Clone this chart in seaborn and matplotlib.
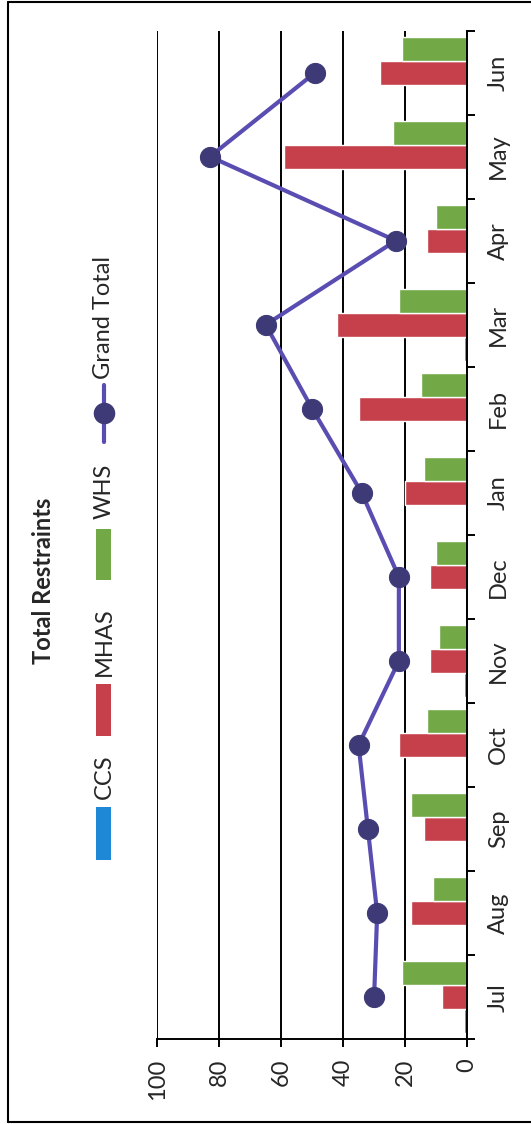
import numpy as np
import pandas as pd
import matplotlib
matplotlib.use("Agg")
import matplotlib.pyplot as plt
from matplotlib.patches import Rectangle
from matplotlib.lines import Line2D
from matplotlib.ticker import FixedLocator, NullFormatter, FixedFormatter
import seaborn as sns

# Monthly restraint counts per facility, fiscal year Jul-Jun
months = ["Jul", "Aug", "Sep", "Oct", "Nov", "Dec", "Jan", "Feb", "Mar", "Apr", "May", "Jun"]
ccs = [1, 0, 0, 0, 1, 0, 0, 0, 1, 0, 0, 0]
mhas = [8, 18, 14, 22, 12, 12, 20, 35, 42, 13, 59, 28]
whs = [21, 11, 18, 13, 9, 10, 14, 15, 22, 10, 24, 21]
grand_total = [30, 29, 32, 35, 22, 22, 34, 50, 65, 23, 83, 49]
series_names = ["CCS", "MHAS", "WHS"]
value_ticks = [0, 20, 40, 60, 80, 100]

sns.set_style("white")
plt.rcParams["font.family"] = ["Lato", "DejaVu Sans"]

colors = {"CCS": "#1f88d6", "MHAS": "#c6404b", "WHS": "#72a846"}
line_color = "#5a4db2"
marker_color = "#3e3a78"
FS = 17

df = pd.DataFrame({
    "month": months * 3,
    "series": np.repeat(series_names, len(months)),
    "value": ccs + mhas + whs,
})

W, H = 531, 1124
fig = plt.figure(figsize=(W / 100, H / 100), dpi=100)
fig.patch.set_facecolor("white")

# chart is laid out sideways: values run right-to-left, months bottom-to-top
x0, x1 = 157.3, 467.0
y_top, y_bot = 30.5, 1039.3
ax = fig.add_axes([x0 / W, 1 - y_bot / H, (x1 - x0) / W, (y_bot - y_top) / H])

sns.barplot(data=df, y="month", x="value", hue="series", order=months,
            hue_order=series_names, palette=colors, orient="h", width=0.855,
            saturation=1, legend=False, ax=ax, zorder=2)

sns.lineplot(x=grand_total, y=months, sort=False, orient="y", estimator=None,
             color=line_color, linewidth=3.0, marker="o", markersize=14.5,
             markerfacecolor=marker_color, markeredgecolor=marker_color,
             legend=False, ax=ax, zorder=4)

ax.set_xlim(100, 0)
ax.set_ylim(-0.5, len(months) - 0.5)
ax.set_xlabel("")
ax.set_ylabel("")

# value axis
ax.set_xticks(value_ticks)
ax.set_xticklabels([str(v) for v in value_ticks])
ax.tick_params(axis="x", bottom=True, length=5.8, width=1.4, color="black",
               labelsize=FS, labelrotation=90, pad=8)
ax.grid(axis="x", color="black", linewidth=1.4)
ax.grid(axis="y", visible=False)
ax.set_axisbelow(True)

# month axis on the right, ticks between categories
ax.yaxis.set_major_locator(FixedLocator(np.arange(-0.5, len(months), 1)))
ax.yaxis.set_major_formatter(NullFormatter())
ax.yaxis.set_minor_locator(FixedLocator(np.arange(len(months))))
ax.yaxis.set_minor_formatter(FixedFormatter(months))
ax.tick_params(axis="y", which="major", left=False, right=True, labelleft=False,
               length=5.8, width=1.4, color="black")
ax.tick_params(axis="y", which="minor", left=False, right=True, labelleft=False,
               labelright=True, length=0, labelsize=FS, labelrotation=90, pad=15)
for lab in ax.get_yticklabels(minor=True):
    lab.set_va("center")

for side in ["left", "top"]:
    ax.spines[side].set_visible(False)
for side in ["bottom", "right"]:
    ax.spines[side].set_visible(True)
    ax.spines[side].set_color("black")
    ax.spines[side].set_linewidth(1.4)
    ax.spines[side].set_zorder(5)

# page frame
def fx(px):
    return px / W

def fy(py):
    return 1 - py / H

for xs, ys in [([8, 8], [2, 1122]), ([8, W], [2, 2]), ([8, W], [1122, 1122])]:
    fig.add_artist(Line2D([fx(v) for v in xs], [fy(v) for v in ys],
                          transform=fig.transFigure, color="black", linewidth=1.5))

# legend, turned to read bottom-to-top
fig.text(fx(44), fy(581), "Total Restraints", rotation=90, ha="center", va="center",
         fontsize=FS, fontweight="bold")
patches = {"CCS": (807, 860), "MHAS": (684, 736), "WHS": (529, 580)}
label_bottom = {"CCS": 799, "MHAS": 676, "WHS": 519}
for name in series_names:
    top, bot = patches[name]
    fig.add_artist(Rectangle((fx(96), fy(bot)), 15 / W, (bot - top) / H,
                             transform=fig.transFigure, facecolor=colors[name],
                             edgecolor="none"))
    fig.text(fx(104), fy(label_bottom[name]), name, rotation=90, ha="center",
             va="bottom", fontsize=FS)

fig.add_artist(Line2D([fx(104), fx(104)], [fy(385), fy(442)], transform=fig.transFigure,
                      color=line_color, linewidth=3.0))
fig.add_artist(Line2D([fx(104)], [fy(413)], transform=fig.transFigure, marker="o",
                      markersize=14.5, markerfacecolor=marker_color,
                      markeredgecolor=marker_color, linestyle="none"))
fig.text(fx(104), fy(379), "Grand Total", rotation=90, ha="center", va="bottom",
         fontsize=FS)

fig.savefig("out.png", dpi=100)
